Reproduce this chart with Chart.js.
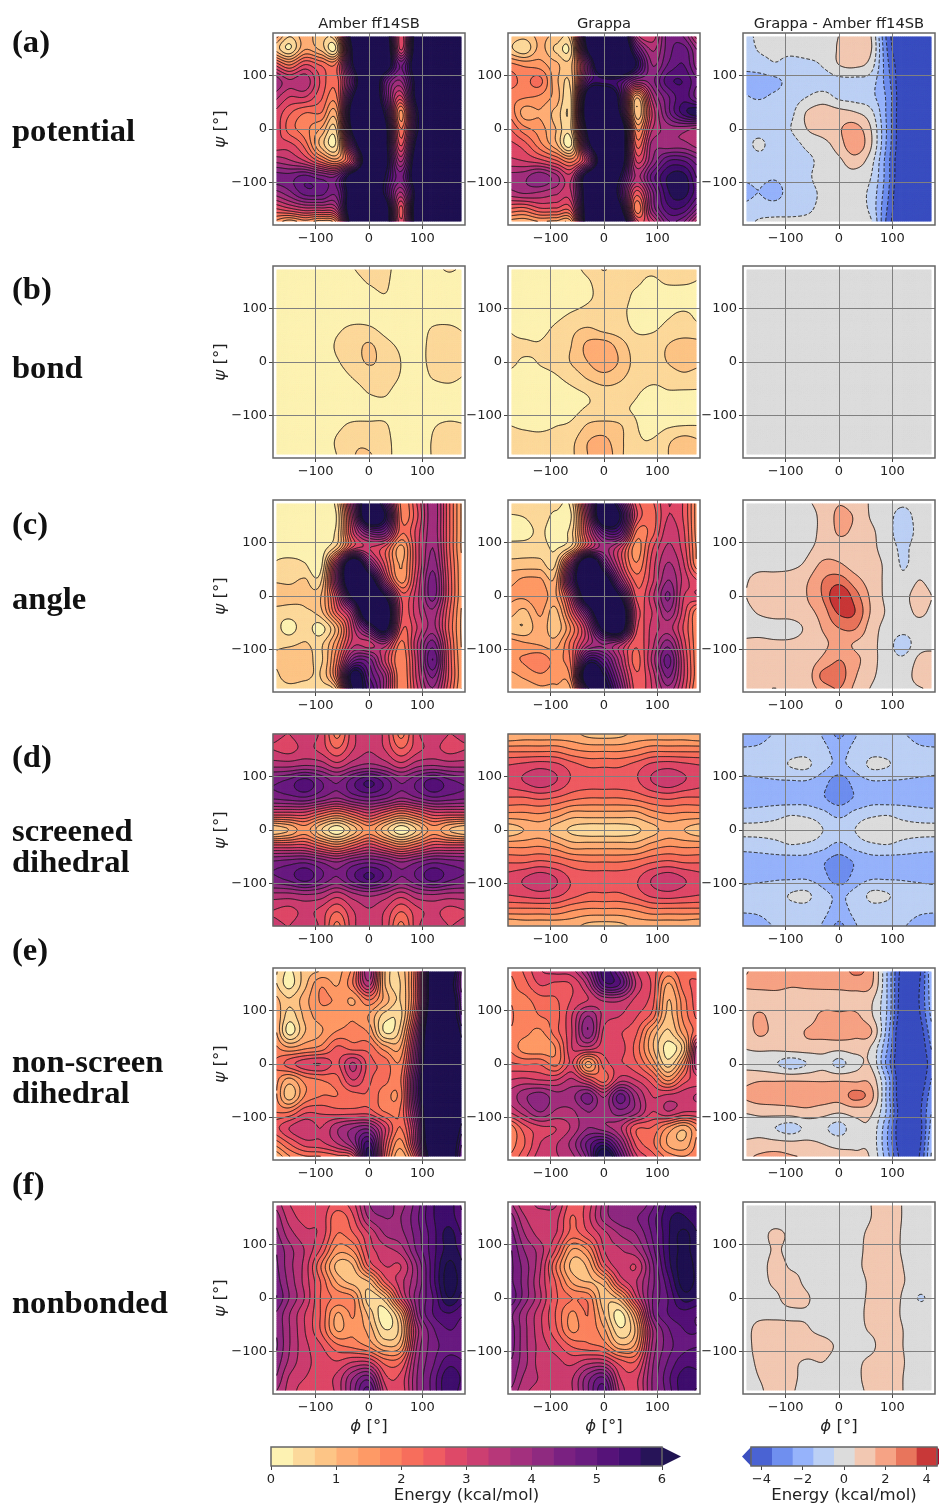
<!doctype html>
<html>
<head>
<meta charset="utf-8">
<title>Energy maps</title>
<style>
  html, body { margin: 0; background: #fff; }
  #page { position: relative; width: 939px; height: 1506px; overflow: hidden; font-family: "DejaVu Sans"; color: #222; filter: blur(0.35px); }
  #page canvas { position: absolute; }
  .side { position: absolute; font: bold 32.6px "Liberation Serif"; color: #111; transform: translateY(-50%); white-space: nowrap; }
  .col { position: absolute; font-size: 14.7px; transform: translate(-50%, -50%); white-space: nowrap; }
  .ax { position: absolute; font-size: 16.5px; transform: translate(-50%, -50%); white-space: nowrap; }
  .ax.y { transform: translate(-50%, -50%) rotate(-90deg); }
</style>
<script src="https://cdn.jsdelivr.net/npm/chart.js@4"></script>
</head>
<body>
<div id="page"></div>
<script>
// every grid: rows run psi = 180 -> -180, columns phi = -180 -> 180 (kcal/mol)
var phiTicks = [-100, 0, 100];
var psiTicks = [-100, 0, 100];
var energyTicks = [0, 1, 2, 3, 4, 5, 6];
var diffTicks = [-4, -2, 0, 2, 4];
var energyLevels = [0, 1/3, 2/3, 1, 4/3, 5/3, 2, 7/3, 8/3, 3, 10/3, 11/3, 4, 13/3, 14/3, 5, 16/3, 17/3, 6];
var diffLevels = [-4.5, -3.5, -2.5, -1.5, -0.5, 0.5, 1.5, 2.5, 3.5, 4.5];
var columnTitles = ["Amber ff14SB", "Grappa", "Grappa - Amber ff14SB"];

var potentialAmber = [
[1.8,.8,1.2,.8,1.5,7,8,7,2.8,6.8,8,8,7],
[1,.3,1.3,.9,.5,6.3,8,7.5,2.9,7,8,8,7],
[2.7,2,2.7,2.3,2.2,6,8,7,4.6,7,8,8,8],
[4,3.4,3.6,2.6,2.2,5,8,5,4,6.5,8,8,8],
[3.5,3,3,2.4,2,6,8,5,2.9,6.5,8,8,8],
[3,2.4,2,2,1.4,7,8,5.8,1.5,5.8,8,8,8],
[3,2.2,1.8,1.3,.8,6.5,8,6.5,2,5.8,8,8,8],
[2.8,2.8,2.2,.9,.5,5,8,6.5,2.6,6.5,8,8,8],
[3.6,3.4,3,2.2,1.6,3.2,7.5,6.5,3.6,7,8,8,8],
[4.5,4.5,4.8,4.5,4.5,7,8,6,4.5,7,8,8,8],
[3.8,4.2,4.8,4.8,4.5,7,8,5.8,3.6,6.5,8,8,8],
[2.6,2.9,3.2,3.2,3.6,7.5,8,7,2.5,7,8,8,8],
[1.5,.8,1.2,.8,1.5,7,8,7,2.8,6.8,8,8,7]];
var potentialGrappa = [
[1,.9,1.1,1,1.2,7,8,8,3.5,3,4.5,4.2,2.8],
[.8,.4,1.1,.6,.7,6.3,8,8,5,3.6,4.5,4.8,3.8],
[1.8,1.6,1.5,1.1,1,4.5,8,8,6,4,4.7,5,4],
[2.2,1.9,2.1,1.1,.9,5,5.5,5.3,4,4.2,5.2,5.3,4.6],
[1.8,1.7,1.6,1.2,.8,7,8,5.5,1.1,3.5,4.6,5.2,4.4],
[2,1.2,1.3,.9,.8,7.5,8,6,.8,3,4.5,5.5,6],
[2.4,1.8,1.5,1,.8,6.5,8,7.5,1.7,3.3,3.8,3.8,3.5],
[2.8,2.5,1.8,1.1,.4,5.5,8,7.5,2.3,3.8,3.8,3.8,3.5],
[3.1,3,2.8,2.4,1.9,3.5,7.5,7,3,4,5,5,4.4],
[3.8,3.9,4.3,3.8,3.3,7,8,6,3.6,4.8,5.7,5.8,4.8],
[3.5,3.7,3.6,3.4,3.4,7,8,5.5,2.5,4.2,5.6,5.8,5],
[2.3,2.2,2.6,2.6,2.7,7,8,6.5,1.8,4,5.2,5.2,4.2],
[1,.9,1.1,1,1.2,7,8,8,3.2,3,4.5,4.2,2.8]];
var potentialDiff = [
[-1,-.2,0,0,0,.2,.5,1.2,.5,-3.8,-6,-6,-6],
[-1.2,-.4,-.3,-.2,0,0,.6,1.2,.6,-3.5,-6,-6,-6],
[-1.3,-1,-.6,-.9,-.8,-.4,.5,.7,0,-3.2,-5.5,-6,-6],
[-1.8,-1.9,-1.7,-1.2,-1,-1,-.8,-.8,-1,-3,-5.5,-6,-6],
[-1.4,-1.6,-1.3,-1,-.5,-.1,-.7,-.9,-1.2,-2.7,-5.5,-6,-6],
[-1,-.9,-.8,-.7,.6,1.1,.9,.6,-.2,-2.7,-5.5,-6,-6],
[-.7,-.9,-.8,-.5,.5,1,1.4,1.9,.5,-2.6,-5.5,-5.8,-5.6],
[-1,-.3,-1,-.9,-.3,.1,1,2.2,.6,-2.7,-5.5,-5.8,-5.8],
[-1.1,-1,-1,-.9,-.7,-.2,.3,1,-.1,-3,-5.7,-6,-6],
[-1.4,-1.3,-1.4,-1,-.7,0,.1,.1,-.5,-3,-5.8,-6,-6],
[-1.7,-1.5,-1.8,-1.1,-.9,-.3,-.2,-.2,-.8,-3.2,-6,-6,-6],
[-1.3,-1.1,-1,-.9,-.7,-.2,-.1,0,-.8,-3.5,-6,-6,-6],
[-1,-.2,-.1,-.1,-.1,.1,.6,.2,-.3,-3.8,-6,-6,-6]];

var bondAmber = [
[.1,.1,.1,.1,.1,.33,.5,.45,.15,.1,.25,.4,.3],
[.1,.1,.1,.1,.1,.2,.36,.4,.1,.1,.1,.2,.1],
[.1,.1,.1,.1,.1,.15,.2,.3,.15,.1,.1,.1,.1],
[.1,.1,.1,.1,.1,.15,.2,.15,.1,.1,.15,.15,.1],
[.1,.1,.1,.1,.28,.42,.4,.25,.15,.15,.38,.42,.3],
[.3,.15,.1,.1,.38,.5,.72,.45,.28,.2,.45,.6,.42],
[.33,.15,.1,.1,.3,.5,.7,.55,.33,.2,.45,.58,.45],
[.15,.1,.1,.1,.18,.34,.48,.5,.3,.15,.35,.42,.3],
[.1,.1,.1,.1,.1,.18,.33,.36,.15,.1,.1,.15,.1],
[.1,.1,.1,.1,.1,.1,.15,.2,.1,.1,.1,.1,.1],
[.15,.1,.1,.1,.25,.42,.42,.38,.1,.1,.3,.42,.36],
[.35,.1,.1,.1,.38,.6,.6,.45,.15,.1,.36,.45,.4],
[.15,.1,.1,.1,.33,.65,.7,.48,.15,.1,.36,.46,.4]];
var bondGrappa = [
[.2,.2,.2,.2,.25,.45,.72,.45,.38,.38,.42,.42,.36],
[.2,.2,.2,.2,.2,.3,.5,.4,.36,.3,.36,.36,.32],
[.2,.2,.2,.2,.2,.3,.42,.42,.28,.22,.2,.2,.2],
[.22,.2,.2,.25,.36,.45,.5,.42,.22,.2,.3,.36,.28],
[.33,.25,.26,.4,.6,.72,.6,.5,.3,.3,.42,.42,.42],
[.38,.38,.36,.5,.68,1.1,1.2,.85,.5,.5,.68,.9,.8],
[.4,.3,.35,.45,.7,1,1.25,.95,.55,.5,.68,.85,.75],
[.25,.22,.25,.3,.45,.7,.85,.72,.5,.4,.45,.55,.45],
[.2,.2,.2,.2,.25,.35,.5,.5,.36,.25,.3,.28,.3],
[.2,.2,.2,.2,.25,.38,.4,.38,.3,.22,.2,.25,.25],
[.34,.3,.28,.33,.4,.72,.8,.7,.36,.2,.3,.34,.34],
[.4,.42,.42,.45,.6,1,1.1,.75,.4,.36,.62,.85,.7],
[.38,.32,.4,.42,.62,1,1.25,.75,.42,.38,.66,.9,.7]];
var bondDiff = [[0,0],[0,0]];

var angleAmber = [
[.3,.3,.25,.2,.6,4,7,5,1.9,2.7,3.9,2.4,1.1],
[.2,.2,.15,.1,.4,3.5,7.5,6,2,2.6,3.9,2.4,1.1],
[.1,.1,.1,.1,.5,3,4.5,4.5,2.1,2.8,3.9,2.4,1.1],
[.25,.15,.2,.15,.9,2.8,3,2.5,1.2,2.8,4,2.4,1.1],
[.35,.45,.35,.2,3.5,7.5,4.5,2.6,1.3,2.8,4.2,2.5,1.2],
[.6,.6,.7,.6,4,8,7,3.5,1.5,3,4.5,2.6,1.2],
[1,.8,.8,1,3,6.5,8,6,2.6,3.2,4.5,2.6,1.2],
[.5,.5,.6,.9,2.4,4,8,7.5,2.8,3.2,3.9,2.4,1.1],
[.5,.2,.5,.2,1.2,3.2,5,6.5,2.5,3,3.8,2.3,1.1],
[.6,.6,.7,.6,1.6,3.2,3.2,3.6,1.9,3.3,4.5,2.5,1.1],
[.7,.9,.9,.6,2,4.5,4.5,3,1.7,3.2,5,2.6,1.2],
[.5,.9,.8,.7,2.2,6.5,5,3.8,1.7,3.1,4.4,2.6,1.2],
[.3,.4,.3,.4,.9,6,5.5,3.8,1.7,2.9,3.9,2.4,1.1]];
var angleGrappa = [
[.7,.6,.5,.5,.6,4,7,5,2.5,2.3,3,2.6,1.3],
[.3,.35,.5,.25,.4,3.5,7.5,6,2.8,2.2,3,2.6,1.3],
[.3,.2,.4,.15,.6,3,5,5,2,2.2,3.2,2.7,1.3],
[.4,.5,.5,.3,.9,3,3.8,3,1.5,2.6,3.4,2.8,1.4],
[.8,.8,.8,.7,4,8,5,3,1.7,2.8,3.7,3,1.5],
[1.2,1.4,1.4,1.2,5,8,7,4,2.2,2.9,4,3.2,2.6],
[1.4,1.4,1.6,1.3,3.5,7.5,8,6,2.6,3.2,4.4,3,3],
[1.2,.9,1.4,.9,2.6,5,8,7.5,3,3,4,2.8,1.6],
[.8,.7,1.2,.8,1.8,3.5,6.5,7,2.8,3.1,3.5,2.6,1.6],
[1.6,1.4,1.3,1.2,2.2,3.5,4,3.5,2.4,3.2,4.2,2.8,1.6],
[1.6,1.7,1.9,1.6,2.2,5.5,5,3.5,2.2,3.4,4.8,3,1.6],
[1.2,1.4,1.6,1.5,2,7.5,6,4,2.4,3.1,4.4,3,1.6],
[1,1,1.2,1.2,1.4,5.5,6.5,4.5,2.5,3,3.8,2.8,1.4]];
var angleDiff = [
[0,0,0,0,.4,.9,1.4,1,.4,0,-.2,0,0],
[0,0,0,0,.1,.8,1.7,1.4,.4,-.1,-.9,-.1,0],
[0,0,0,0,.1,.8,1.6,1.3,.7,-.1,-1,-.2,0],
[0,0,0,0,.3,.9,1.2,1,.7,.1,-.7,0,0],
[0,.1,.1,.2,.7,1.7,1.6,1,.8,.3,-.6,0,0],
[.3,.9,.9,1,1.4,2.5,3,1.9,1,.3,-.3,.5,0],
[.4,1,.9,.9,1.5,2.6,4.5,3,1.3,.3,.2,.9,.4],
[.2,.6,.9,.9,1.2,2,3.7,3.5,1.4,.4,.1,.7,.2],
[.1,.1,0,.1,.7,1.6,2.5,2.6,1,.2,-.1,.1,0],
[.7,.8,.7,.7,.9,1.3,1.8,1.4,.8,0,-1,.1,.2],
[.9,.9,.9,.9,1,1.7,2.5,1.8,.9,0,-.3,.7,.9],
[.8,.8,.9,.9,1,2.8,3,1.6,.7,.1,0,.9,1],
[.4,.6,.4,.7,.9,1.7,2.4,1.2,.4,0,0,.3,.6]];

var screenedAmber = [
[3.1,3,3.2,2.9,1.9,2.9,3.2,2.9,1.9,2.9,3.2,3,3.1],
[3,2.9,3.1,2.9,2.4,3,3.3,3,2.4,2.9,3.1,2.9,3],
[3.6,3.6,3.7,3.6,3.2,3.6,3.8,3.6,3.2,3.6,3.7,3.6,3.6],
[4.6,4.8,5.2,4.7,4.3,4.9,5.4,4.9,4.3,4.7,5.2,4.8,4.6],
[4.4,4.5,4.6,4.3,4,4.4,4.6,4.4,4,4.3,4.6,4.5,4.4],
[2.8,2.8,2.8,2.3,1.9,2.4,2.9,2.4,1.9,2.3,2.8,2.8,2.8],
[.7,1,1.5,.7,.1,.8,1.5,.8,.1,.7,1.5,1,.7],
[2.8,2.8,2.8,2.3,1.9,2.4,2.9,2.4,1.9,2.3,2.8,2.8,2.8],
[4.4,4.5,4.6,4.3,4,4.4,4.6,4.4,4,4.3,4.6,4.5,4.4],
[4.6,4.8,5.2,4.7,4.3,4.9,5.4,4.9,4.3,4.7,5.2,4.8,4.6],
[3.6,3.6,3.7,3.6,3.2,3.6,3.8,3.6,3.2,3.6,3.7,3.6,3.6],
[3,2.9,3.1,2.9,2.4,3,3.3,3,2.4,2.9,3.1,2.9,3],
[3.1,3,3.2,2.9,1.9,2.9,3.2,2.9,1.9,2.9,3.2,3,3.1]];
var screenedGrappa = [
[1,1.1,1.1,1.1,1.1,.9,.85,.9,1.1,1.1,1.1,1.1,1],
[1.9,1.9,1.9,1.9,1.7,1.6,1.6,1.6,1.7,1.9,1.9,1.9,1.9],
[2.7,2.8,2.9,2.8,2.5,2.3,2.3,2.3,2.5,2.8,2.9,2.8,2.7],
[2.8,3,3.2,3,2.6,2.5,2.5,2.5,2.6,3,3.2,3,2.8],
[2.3,2.3,2.4,2.3,2.1,2,2,2,2.1,2.3,2.4,2.3,2.3],
[1.6,1.6,1.65,1.5,1.2,1.2,1.2,1.2,1.2,1.5,1.65,1.6,1.6],
[.8,1,1.15,.85,.6,.5,.5,.5,.6,.85,1.15,1,.8],
[1.6,1.6,1.65,1.5,1.2,1.2,1.2,1.2,1.2,1.5,1.65,1.6,1.6],
[2.3,2.3,2.4,2.3,2.1,2,2,2,2.1,2.3,2.4,2.3,2.3],
[2.8,3,3.2,3,2.6,2.5,2.5,2.5,2.6,3,3.2,3,2.8],
[2.7,2.8,2.9,2.8,2.5,2.3,2.3,2.3,2.5,2.8,2.9,2.8,2.7],
[1.9,1.9,1.9,1.9,1.7,1.6,1.6,1.6,1.7,1.9,1.9,1.9,1.9],
[1,1.1,1.1,1.1,1.1,.9,.85,.9,1.1,1.1,1.1,1.1,1]];
var screenedDiff = [
[-2,-1.9,-1.4,-1,-1,-1.6,-2.7,-1.6,-1,-1,-1.4,-1.9,-2],
[-1.4,-1.3,-.9,-.8,-.8,-1.2,-1.9,-1.2,-.8,-.8,-.9,-1.3,-1.4],
[-1.1,-1,-.9,-.45,-.35,-1.2,-1.7,-1.2,-.35,-.45,-.9,-1,-1.1],
[-1.8,-1.7,-1.6,-1.6,-1.6,-2.1,-3.1,-2.1,-1.6,-1.6,-1.6,-1.7,-1.8],
[-1.9,-1.9,-1.9,-2,-1.9,-2.4,-3,-2.4,-1.9,-2,-1.9,-1.9,-1.9],
[-1.2,-1.1,-.9,-.6,-.8,-1.2,-1.8,-1.2,-.8,-.6,-.9,-1.1,-1.2],
[-.2,-.2,-.1,.2,.4,-.5,-.8,-.5,.4,.2,-.1,-.2,-.2],
[-1.2,-1.1,-.9,-.6,-.8,-1.2,-1.8,-1.2,-.8,-.6,-.9,-1.1,-1.2],
[-1.9,-1.9,-1.9,-2,-1.9,-2.4,-3,-2.4,-1.9,-2,-1.9,-1.9,-1.9],
[-1.8,-1.7,-1.6,-1.6,-1.6,-2.1,-3.1,-2.1,-1.6,-1.6,-1.6,-1.7,-1.8],
[-1.1,-1,-.9,-.45,-.35,-1.2,-1.7,-1.2,-.35,-.45,-.9,-1,-1.1],
[-1.4,-1.3,-.9,-.8,-.8,-1.2,-1.9,-1.2,-.8,-.8,-.9,-1.3,-1.4],
[-2,-1.9,-1.4,-1,-1,-1.6,-2.7,-1.6,-1,-1,-1.4,-1.9,-2]];

var nonScreenAmber = [
[.8,.3,.8,.9,1.2,1.8,4,1,.8,2.5,7,7,4.5],
[.8,.2,.9,1.6,1.3,2,3.5,1,.7,2.6,7,6.5,4.5],
[1.2,.7,1.2,1.7,1.6,1.3,2,1.2,.7,2.6,7,6.8,4.8],
[1.5,.5,1.1,1.5,1.4,1.6,1.3,.5,.6,3,7.5,7,5],
[1.6,.2,1,1.3,1.7,1.8,1.6,.3,.9,3.7,8,7.5,5.5],
[1.8,1.4,1.6,1.8,2.4,2.2,2.2,1.5,1.4,4.2,8,7.5,6],
[2,2.5,2.9,3,2.6,3.4,2.5,2.2,1.8,4.5,8,8,6.5],
[1.9,1.2,1.8,2,2.2,3,2.4,2.1,2,5,8,8,6.5],
[1.9,.8,1.7,2,2,2.2,2.3,1.8,1.9,5,8,8,6.5],
[2,2,2.6,2.6,2.5,2.5,2.5,2,2.1,4.5,8,8,6],
[2.5,3,3.3,3,3.6,4,4.2,3,2,4,8,7.5,5.5],
[1.7,2.3,2.8,2.9,3.3,4,5.5,2.8,1.5,3.8,7.5,7,5],
[.8,1.5,1.8,1.8,2,2.3,6,2.5,1,2.8,7,7,4.5]];
var nonScreenGrappa = [
[2,2.4,3,3.2,3.3,4.2,5.5,4.5,3,2.5,2,2.3,2.2],
[1.9,2.2,2.7,2.6,2.7,3.5,5.2,5,3.3,2.6,1.3,2.2,2.4],
[2,1.9,2.2,2.3,2.7,3,3.4,3.4,2.9,2.5,1,1.9,2.6],
[2.1,1.8,2,2.2,3,4,3.2,3,2.7,2.2,.9,1.8,2.5],
[2,1.8,1.6,2.2,3,4.3,2.9,2.7,2.4,1.3,.6,1.5,2.3],
[2,1.5,1.4,1.7,3,3.2,2.8,2.8,2.2,1.1,.2,.9,4],
[2.4,2.3,2.3,1.9,2.7,1.2,2.5,2.7,2.4,1.6,.5,1.7,4],
[3,3.1,3,3,3.4,2.8,2.2,3.2,3,2.5,1.6,2.5,2.9],
[3.4,3.9,4.2,3.8,3.9,4.5,3.6,4.8,3.8,3,3.1,3.2,3.4],
[3,3.5,4,3.6,3.6,4,3.8,4.2,3.8,3,3.3,3,3],
[1.7,2.5,2.9,3,3.4,4,3.8,3.4,2.4,2.3,1.6,1.1,1.9],
[1.8,2.3,3,3.3,3.8,4.8,5.5,4.2,2.6,2.1,1.3,1.1,1.9],
[2,2.6,3.2,3.3,3.5,4.5,7,5,3.2,2.6,2,1.8,2]];
var nonScreenDiff = [
[1.2,2,1.7,1.6,1.7,1.7,1.9,2.8,1.9,-1.5,-5,-4.8,-1],
[1.6,1.9,1.8,1.6,1.7,1.8,1.8,2,1.7,-1.5,-5.2,-4.6,-1.3],
[1,.8,1,1,.9,.9,1,1,.7,-1.5,-5.3,-4.5,-1.5],
[.8,1.7,1,1,.9,1.8,1.7,1.7,.7,-1.6,-5.5,-4.7,-1.8],
[.7,1.7,1.2,1,1.6,1.9,2,1.8,1.6,-1.9,-6,-5.2,-2.4],
[.5,.7,.7,.9,1,.9,.8,.9,.4,-2.4,-6,-5.5,-3],
[.2,0,-.4,-1,-.5,.1,-.8,.1,.4,-2.8,-6,-5.7,-3.5],
[1.2,1.4,1.4,1.4,1.4,1.4,1.4,1.3,1.2,-1.8,-6,-5.5,-3],
[1.6,2,2,2,2,2,1.9,2.8,1.9,-1.8,-5.8,-5,-2.5],
[.6,.8,.9,1,1.2,.9,.6,.9,.7,-1.7,-5.5,-4.8,-2],
[-.6,-.1,-.5,-.9,-.3,-.3,-.9,.1,.2,-2.3,-5.8,-5,-1.5],
[.9,1,.9,.8,.8,.5,.2,.3,.2,-2.4,-5.5,-4.8,-1],
[1.4,1.7,2,1.7,1.5,1.2,1,.8,.4,-2,-5,-4.5,-.7]];

var nonbondedAmber = [
[3.6,3,2.9,2.9,2.6,2.9,4,4.2,3.9,4.5,5.3,5.5,4.8],
[4,3.2,2.9,2.9,2.1,2.6,3.7,4,4,4.6,5.3,5.5,5],
[4.2,3.5,3.1,2.9,2,2.3,3,3.7,3.9,4.5,5.2,5.8,5.2],
[4.4,3.8,3.3,2.6,1.5,1.7,2.8,3.2,3.5,4.4,5.2,5.8,5.5],
[4.5,3.8,3.2,2,.9,1,2.4,3,3,4,5.2,6.1,5.6],
[4.6,3.9,3.2,2.3,1.3,.9,1,2.4,3.2,4,5.2,6.2,5.7],
[4.8,4,3.3,2.3,1.9,1.7,.5,.9,2.8,4.2,5,6,5.4],
[4.4,3.7,3,2.3,1.3,1.7,.9,.15,1.3,4,5,5.3,5],
[4.4,3.7,3,2.3,1.3,1.6,1.2,.35,.9,3.5,4.6,5,4.8],
[4.5,3.7,3.1,2.7,2.1,1.9,1.6,1,1.3,3.7,4.5,4.8,4.7],
[4.3,3.6,3.1,2.9,2.7,3,3,2.2,2.3,3.9,4.6,5.2,5],
[4.1,3.3,3,2.9,3.1,4,4.5,2.8,2.8,4,4.8,5.6,5.2],
[3.7,3.2,2.8,2.8,3.1,4.2,5.2,3.2,2.8,4,4.8,5.6,5]];
var nonbondedGrappa = [
[3.8,3.1,3.5,3.4,2.5,2.8,3.8,4.3,4,4.5,5.4,5.6,5.2],
[4.3,3.4,3.1,3.1,2.3,2.9,3.8,4.2,4.3,4.8,5.6,5.7,5.4],
[4.6,3.7,3.2,3,2.2,2.6,3.2,3.7,4,4.7,5.6,6.1,5.6],
[4.8,4,3.5,2.6,1.3,1.7,3,3.3,3.6,4.5,5.6,6.1,5.7],
[4.8,4.2,3.4,2,.9,1.1,2.5,3.2,3,4.2,5.5,6.2,5.8],
[4.8,4.2,3.3,2.3,1.3,1,1.2,2.7,3.3,4.2,5.2,6.2,5.8],
[5,4.2,3.4,2.4,2,1.9,.8,1.2,2.9,4.3,5,5.8,5.6],
[4.5,3.8,3.1,2.3,1.6,2,1,.2,1.6,4.2,5,5.2,5],
[4.6,3.8,3.1,2.4,1.6,1.9,1.4,.4,1.1,3.6,4.6,5,5],
[4.6,3.8,3.2,2.8,2.3,2.1,1.9,1.1,1.5,3.7,4.5,4.9,5],
[4.4,3.8,3.2,3.1,2.9,3.2,3.2,2.5,2.4,3.9,4.7,5.2,5.2],
[4.3,3.6,3.3,3.1,3.3,4.2,4.7,3,2.9,4,4.9,5.5,5.4],
[4,3.4,3.2,3,3.3,4.3,5.2,3.3,2.9,4,4.8,5.5,5.2]];
var nonbondedDiff = [
[0,0,0,0,0,0,0,.1,.5,1,.45,0,0],
[0,0,0,0,0,0,0,.1,.5,1,.45,0,0],
[0,.1,.7,.3,0,0,0,.2,.7,1,.4,0,0],
[0,0,.6,.2,0,0,0,.1,.9,1,.4,0,0],
[0,.1,.8,.4,.3,0,0,.2,.9,1,.5,0,0],
[0,.1,.7,.8,.3,0,0,0,.7,.9,.55,0,0],
[0,0,.3,.9,.6,0,0,.1,.7,.9,.4,-.55,-.2],
[0,.2,.3,.3,.4,.1,0,.1,.8,.9,.4,0,0],
[0,.9,.9,.9,.6,.2,0,.2,.6,.9,.5,0,0],
[0,.9,1,1,1,.9,.3,.1,.3,1,.5,0,0],
[0,.7,1,.7,.4,.5,0,.3,.7,1,.55,0,0],
[0,.5,.9,.7,.2,.1,0,.3,.8,1,.5,0,0],
[0,.3,.9,.6,.1,0,0,.2,.7,1,.5,0,0]];

var sideLabels = [["(a)",41],["potential",130],["(b)",288],["bond",367],["(c)",523],["angle",598],["(d)",756],["screened",830],["dihedral",861],["(e)",949],["non-screen",1061],["dihedral",1092],["(f)",1183],["nonbonded",1302]];

// styles and layout below, away from the values
var energyColors = ["#fdf2b2","#fdf2b2","#fcd99b","#fdc586","#feae76","#fe9a66","#fc8560","#f76e5c","#ef5c62","#de4968","#cc3f71","#b73779","#a3307e","#8f2a80","#7a2181","#6a1c80","#561379","#40106f","#271458","#201352"];
var diffColors = ["#3b4fc0","#4a63d3","#6f8fef","#96b3fb","#bcd0f5","#dcdcdc","#f2c8b2","#f6a385","#e8755c","#c83838","#b40426"];
var colX = [369, 604, 839];
var rowY = [129, 362, 596, 830, 1064, 1298];
var PLOT = 192, PAD_L = 44, PAD_T = 4, PAD_R = 3, PAD_B = 24;
var panels = [
	[potentialAmber, potentialGrappa, potentialDiff],
	[bondAmber, bondGrappa, bondDiff],
	[angleAmber, angleGrappa, angleDiff],
	[screenedAmber, screenedGrappa, screenedDiff],
	[nonScreenAmber, nonScreenGrappa, nonScreenDiff],
	[nonbondedAmber, nonbondedGrappa, nonbondedDiff]
];

Chart.defaults.font.family = "DejaVu Sans";
Chart.defaults.font.size = 13;
Chart.defaults.color = "#222";
Chart.defaults.animation = false;
Chart.defaults.events = [];

var page = document.getElementById("page");

function addText(cls, html, x, y) {
	var d = document.createElement("div");
	d.className = cls;
	d.innerHTML = html;
	d.style.left = x + "px";
	d.style.top = y + "px";
	page.appendChild(d);
}

function addCanvas(left, top, w, h) {
	var c = document.createElement("canvas");
	c.width = w; c.height = h;
	c.style.left = left + "px"; c.style.top = top + "px";
	c.style.width = w + "px"; c.style.height = h + "px";
	page.appendChild(c);
	return c;
}

function catmull(a, b, c, d, t) {
	return 0.5 * (2 * b + (c - a) * t + (2 * a - 5 * b + 4 * c - d) * t * t + (3 * b - a - 3 * c + d) * t * t * t);
}

// value of the read grid at (phi, psi), the way a contour routine shades between its nodes
function fieldAt(grid, phi, psi) {
	var nr = grid.length, nc = grid[0].length;
	var fx = (phi + 180) / 360 * (nc - 1), fy = (180 - psi) / 360 * (nr - 1);
	var ix = Math.min(Math.floor(fx), nc - 2), iy = Math.min(Math.floor(fy), nr - 2);
	var row = [];
	for (var j = -1; j <= 2; j++) {
		var r = grid[Math.max(0, Math.min(nr - 1, iy + j))];
		row.push(catmull(r[Math.max(0, ix - 1)], r[ix], r[ix + 1], r[Math.min(nc - 1, ix + 2)], fx - ix));
	}
	return catmull(row[0], row[1], row[2], row[3], fy - iy);
}

function buildField(grid, ext, steps) {
	var xs = [], ys = [], z = [];
	for (var i = 0; i <= steps; i++) { xs.push(-ext + 2 * ext * i / steps); ys.push(ext - 2 * ext * i / steps); }
	ys.forEach(function(psi) { z.push(xs.map(function(phi) { return fieldAt(grid, phi, psi); })); });
	return { xs: xs, ys: ys, z: z };
}

function clipPoly(poly, lim, sign) {
	var out = [];
	for (var i = 0; i < poly.length; i++) {
		var a = poly[i], b = poly[(i + 1) % poly.length];
		var ia = (a[2] - lim) * sign >= 0, ib = (b[2] - lim) * sign >= 0;
		if (ia) out.push(a);
		if (ia !== ib) {
			var t = (lim - a[2]) / (b[2] - a[2]);
			out.push([a[0] + (b[0] - a[0]) * t, a[1] + (b[1] - a[1]) * t, lim]);
		}
	}
	return out;
}

function buildBands(f, levels) {
	var bands = [];
	for (var k = 0; k <= levels.length; k++) bands.push([]);
	for (var j = 0; j < f.ys.length - 1; j++) for (var i = 0; i < f.xs.length - 1; i++) {
		var cell = [[f.xs[i], f.ys[j], f.z[j][i]], [f.xs[i + 1], f.ys[j], f.z[j][i + 1]], [f.xs[i + 1], f.ys[j + 1], f.z[j + 1][i + 1]], [f.xs[i], f.ys[j + 1], f.z[j + 1][i]]];
		for (k = 0; k <= levels.length; k++) {
			var p = cell;
			if (k > 0) p = clipPoly(p, levels[k - 1], 1);
			if (k < levels.length && p.length) p = clipPoly(p, levels[k], -1);
			if (p.length > 2) bands[k].push(p);
		}
	}
	return bands;
}

// joins the little pieces of one level into whole lines, so dashes run along them
function contourLines(f, level) {
	var segs = [], ends = {};
	function cross(ax, ay, av, bx, by, bv, key) {
		if ((av < level) === (bv < level)) return null;
		var t = (level - av) / (bv - av);
		return { x: ax + (bx - ax) * t, y: ay + (by - ay) * t, key: key };
	}
	for (var j = 0; j < f.ys.length - 1; j++) for (var i = 0; i < f.xs.length - 1; i++) {
		var x0 = f.xs[i], x1 = f.xs[i + 1], y0 = f.ys[j], y1 = f.ys[j + 1];
		var a = f.z[j][i], b = f.z[j][i + 1], c = f.z[j + 1][i + 1], d = f.z[j + 1][i];
		var pts = [
			cross(x0, y0, a, x1, y0, b, "h" + i + "_" + j),
			cross(x1, y0, b, x1, y1, c, "v" + (i + 1) + "_" + j),
			cross(x1, y1, c, x0, y1, d, "h" + i + "_" + (j + 1)),
			cross(x0, y1, d, x0, y0, a, "v" + i + "_" + j)
		].filter(Boolean);
		for (var k = 0; k + 1 < pts.length; k += 2) {
			var s = segs.length;
			segs.push([pts[k], pts[k + 1]]);
			(ends[pts[k].key] = ends[pts[k].key] || []).push(s);
			(ends[pts[k + 1].key] = ends[pts[k + 1].key] || []).push(s);
		}
	}
	var used = [], lines = [];
	function walk(line) {
		for (;;) {
			var last = line[line.length - 1];
			var next = (ends[last.key] || []).filter(function(n) { return !used[n]; })[0];
			if (next === undefined) return;
			used[next] = true;
			line.push(segs[next][0].key === last.key ? segs[next][1] : segs[next][0]);
		}
	}
	segs.forEach(function(sg, n) {
		if (used[n]) return;
		used[n] = true;
		var line = [sg[0], sg[1]];
		walk(line);
		line.reverse();
		walk(line);
		lines.push(line);
	});
	return lines;
}

function linesToData(f, levels) {
	var data = [];
	levels.forEach(function(l) {
		contourLines(f, l).forEach(function(line) {
			line.forEach(function(p) { data.push({ x: p.x, y: p.y }); });
			data.push({ x: NaN, y: NaN });
		});
	});
	return data;
}

var bandPlugin = {
	id: "bands",
	beforeDatasetsDraw: function(chart, args, opts) {
		var x = chart.scales.x, y = chart.scales.y, ctx = chart.ctx;
		ctx.save();
		ctx.lineWidth = 0.5;
		ctx.lineJoin = "round";
		opts.bands.forEach(function(polys, k) {
			if (!polys.length) return;
			var path = new Path2D();
			polys.forEach(function(p) {
				p.forEach(function(v, n) {
					var px = x.getPixelForValue(v[0]), py = y.getPixelForValue(v[1]);
					if (n) path.lineTo(px, py); else path.moveTo(px, py);
				});
				path.closePath();
			});
			ctx.fillStyle = ctx.strokeStyle = opts.colors[k];
			ctx.fill(path);
			ctx.stroke(path);
		});
		ctx.restore();
	}
};

var framePlugin = {
	id: "frame",
	afterDraw: function(chart) {
		var a = chart.chartArea, ctx = chart.ctx;
		ctx.save();
		ctx.strokeStyle = "#666";
		ctx.lineWidth = 1.5;
		ctx.strokeRect(a.left, a.top, a.right - a.left, a.bottom - a.top);
		ctx.restore();
	}
};

function fixedTicks(values) {
	return function(scale) { scale.ticks = values.map(function(v) { return { value: v }; }); };
}

function minusLabel(v) { return String(v).replace("-", "\u2212"); }

// the tick labels never reach the plot corners, so no label margin is wanted
function noMargins(s) {
	s.paddingTop = s.paddingBottom = s.paddingLeft = s.paddingRight = 0;
}

function axisOptions(values, afterFit) {
	return {
		type: "linear", min: -180, max: 180,
		afterBuildTicks: fixedTicks(values),
		afterFit: function(s) { afterFit(s); noMargins(s); },
		border: { display: false },
		grid: { z: 1, color: "#808080", lineWidth: 1, tickColor: "#444", tickLength: 4 },
		ticks: { autoSkip: false, maxRotation: 0, padding: 2, callback: minusLabel }
	};
}

function drawPanel(grid, cx, cy, diff, ext) {
	var levels = diff ? diffLevels : energyLevels;
	var f = buildField(grid, ext, 90);
	var lineLevels = diff ? diffLevels : energyLevels.slice(1);
	var solid = lineLevels.filter(function(l) { return l >= 0; });
	var dashed = lineLevels.filter(function(l) { return l < 0; });
	var lineStyle = { showLine: true, pointRadius: 0, borderColor: "#141414", borderWidth: 1, tension: 0.01, spanGaps: false };
	var left = Math.round(cx - PLOT / 2 - PAD_L), top = Math.round(cy - PLOT / 2 - PAD_T);
	var canvas = addCanvas(left, top, PAD_L + PLOT + PAD_R, PAD_T + PLOT + PAD_B);
	new Chart(canvas, {
		type: "scatter",
		data: { datasets: [
			Object.assign({ data: linesToData(f, solid) }, lineStyle),
			Object.assign({ data: linesToData(f, dashed), borderDash: [3.5, 2] }, lineStyle)
		] },
		options: {
			responsive: false,
			layout: { padding: { top: PAD_T, right: PAD_R, left: 0, bottom: 0 } },
			scales: {
				x: axisOptions(phiTicks, function(s) { s.height = PAD_B; }),
				y: axisOptions(psiTicks, function(s) { s.width = PAD_L; })
			},
			plugins: {
				legend: { display: false }, tooltip: { enabled: false },
				bands: { bands: buildBands(f, levels), colors: diff ? diffColors : energyColors }
			}
		},
		plugins: [bandPlugin, framePlugin]
	});
}

panels.forEach(function(row, r) {
	row.forEach(function(grid, c) {
		drawPanel(grid, colX[c], rowY[r], c === 2, r === 3 ? 180 : 173);
	});
	addText("ax y", "<i>\u03c8</i> [\u00b0]", 219, rowY[r]);
});
colX.forEach(function(x, c) {
	addText("col", columnTitles[c], x, 22);
	addText("ax", "<i>\u03d5</i> [\u00b0]", x, 1425);
});
sideLabels.forEach(function(s) {
	addText("side", s[0], 12, s[1]);
});

// colour bars: one floating bar per band
function drawBar(left, width, levels, colors, ticks, tipLeft, tipRight) {
	var top = 1447, height = 19, padL = 12, canvas = addCanvas(left - padL, top - 3, width + padL + 24, 1506 - top + 3);
	var sets = [];
	for (var i = 0; i < levels.length - 1; i++) {
		sets.push({ data: [[levels[i], levels[i + 1]]], backgroundColor: colors[i + 1], borderWidth: 0, barPercentage: 1, categoryPercentage: 1 });
	}
	new Chart(canvas, {
		type: "bar",
		data: { labels: ["Energy"], datasets: sets },
		options: {
			indexAxis: "y",
			responsive: false,
			layout: { padding: { left: padL, top: 3, right: 24 } },
			scales: {
				x: {
					type: "linear", min: levels[0], max: levels[levels.length - 1],
					afterBuildTicks: fixedTicks(ticks),
					afterFit: function(s) { s.height = 1506 - top - height; },
					border: { display: false },
					grid: { drawOnChartArea: false, tickColor: "#444", tickLength: 4 },
					ticks: { autoSkip: false, maxRotation: 0, padding: 2, callback: minusLabel },
					title: { display: true, text: "Energy (kcal/mol)", font: { size: 16.5 }, padding: 0, color: "#222" }
				},
				y: { display: false, stacked: true }
			},
			plugins: { legend: { display: false }, tooltip: { enabled: false } }
		},
		plugins: [framePlugin, {
			id: "tips",
			afterDatasetsDraw: function(chart) {
				var a = chart.chartArea, ctx = chart.ctx, mid = (a.top + a.bottom) / 2;
				ctx.save();
				if (tipRight) {
					ctx.fillStyle = colors[colors.length - 1];
					ctx.beginPath(); ctx.moveTo(a.right, a.top); ctx.lineTo(a.right + tipRight, mid); ctx.lineTo(a.right, a.bottom); ctx.fill();
				}
				if (tipLeft) {
					ctx.fillStyle = colors[0];
					ctx.beginPath(); ctx.moveTo(a.left, a.top); ctx.lineTo(a.left - tipLeft, mid); ctx.lineTo(a.left, a.bottom); ctx.fill();
				}
				ctx.restore();
			}
		}]
	});
}

drawBar(271, 391, energyLevels, energyColors, energyTicks, 0, 19);
drawBar(751, 186, diffLevels, diffColors, diffTicks, 9, 9);
</script>
</body>
</html>
